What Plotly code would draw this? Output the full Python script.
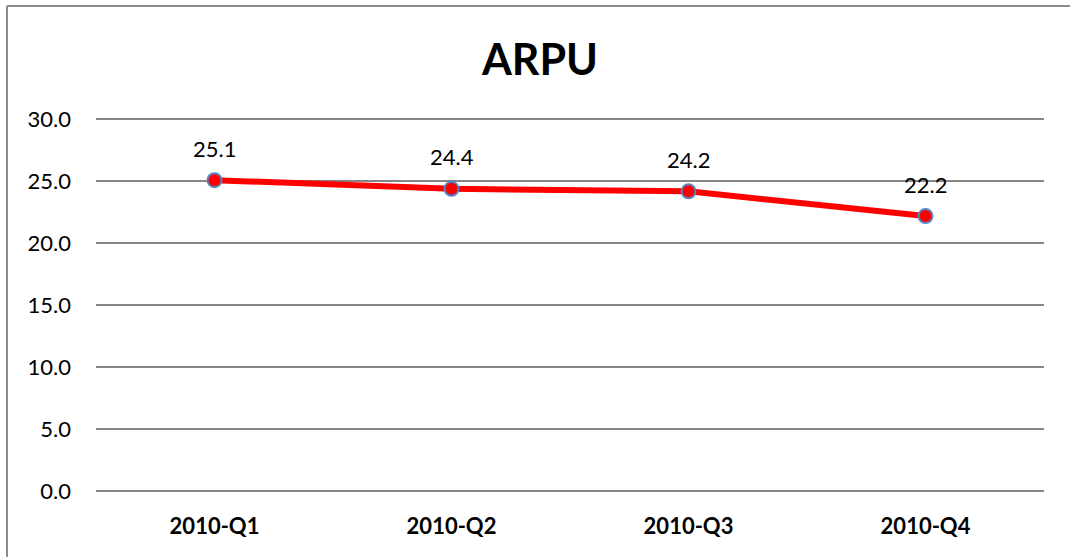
import plotly.graph_objects as go

quarters = ["2010-Q1", "2010-Q2", "2010-Q3", "2010-Q4"]
arpu = [25.1, 24.4, 24.2, 22.2]

W, H = 1070, 557
Y_MAX = 30.2  # a little headroom so the 30.0 gridline is drawn
px_per_unit = (491 - 119) / 30
L, R = 96, 26
B = H - 491
T = 119 - round((Y_MAX - 30) * px_per_unit)
plot_w = W - L - R
plot_h = H - T - B


def px_x(value):
    return (value - L) / plot_w


def px_y(value):
    return (H - B - value) / plot_h


fig = go.Figure()
fig.add_trace(
    go.Scatter(
        x=quarters,
        y=arpu,
        mode="lines+markers",
        line={"color": "#ff0000", "width": 6},
        marker={"size": 14, "color": "#ff0000", "line": {"color": "#5585c4", "width": 2}},
        cliponaxis=False,
        showlegend=False,
    )
)

for quarter, value in zip(quarters, arpu):
    fig.add_annotation(
        x=quarter,
        y=value,
        text=f"{value:.1f}",
        showarrow=False,
        yshift=32,
        font={"size": 22, "color": "#000000"},
    )

# outer chart frame (left and top edges visible)
fig.add_shape(
    type="line", xref="paper", yref="paper",
    x0=px_x(7), x1=px_x(7), y0=px_y(6), y1=px_y(H + 20),
    line={"color": "#8c8c8c", "width": 2},
)
fig.add_shape(
    type="line", xref="paper", yref="paper",
    x0=px_x(7), x1=px_x(W + 20), y0=px_y(6), y1=px_y(6),
    line={"color": "#8c8c8c", "width": 2},
)

fig.update_layout(
    width=W,
    height=H,
    paper_bgcolor="white",
    plot_bgcolor="white",
    margin={"l": L, "r": R, "t": T, "b": B},
    font={"family": "Lato, Open Sans, sans-serif", "color": "#000000"},
    title={
        "text": "<b>ARPU</b>",
        "x": 540 / W,
        "xanchor": "center",
        "y": 1 - 60 / H,
        "yanchor": "middle",
        "font": {"size": 43, "color": "#000000"},
    },
    xaxis={
        "type": "category",
        "range": [-0.5, 3.5],
        "showgrid": False,
        "showline": False,
        "ticks": "",
        "tickfont": {"size": 22, "color": "#000000", "weight": "bold"},
        "ticklabelstandoff": 20,
    },
    yaxis={
        "range": [0, Y_MAX],
        "dtick": 5,
        "tickformat": ".1f",
        "showgrid": True,
        "gridcolor": "#868686",
        "gridwidth": 2,
        "zeroline": True,
        "zerolinecolor": "#868686",
        "zerolinewidth": 2,
        "showline": False,
        "ticks": "",
        "tickfont": {"size": 22, "color": "#000000"},
        "ticklabelstandoff": 24,
    },
)

# drop the default page margin so the figure sits at the window's corner
fig.write_html(
    "out.html",
    config={"displayModeBar": False},
    post_script="document.body.style.margin = '0';",
)
